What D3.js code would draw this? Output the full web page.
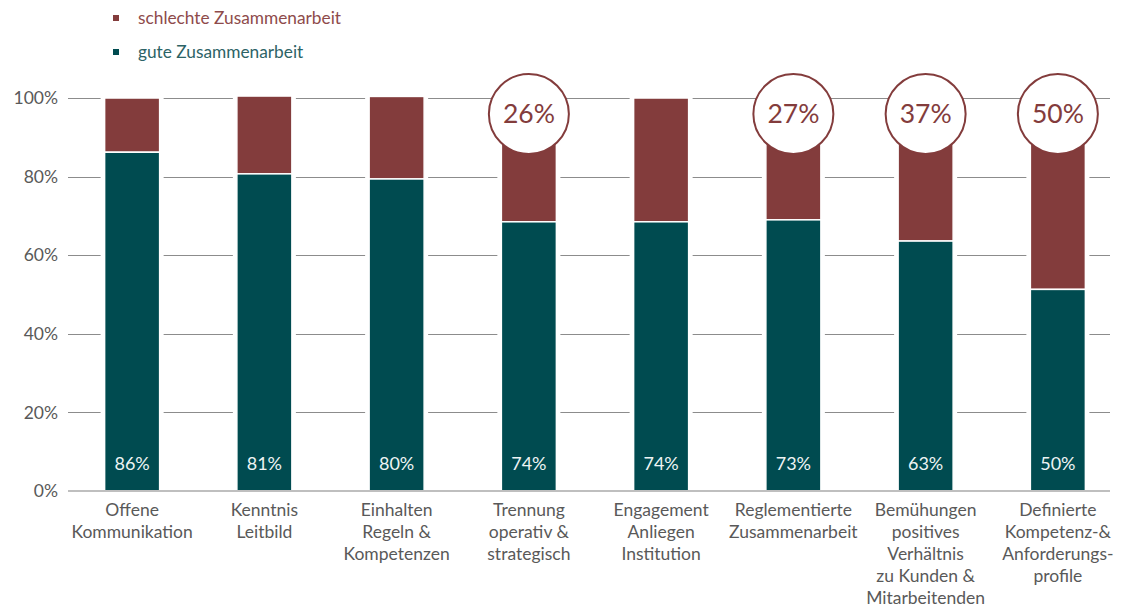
<!DOCTYPE html>
<html>
<head>
<meta charset="utf-8">
<script src="https://cdn.jsdelivr.net/npm/d3@7"></script>
<style>
  body { margin: 0; background: #fff; }
  svg text { font-family: Lato, "Open Sans", sans-serif; }
</style>
</head>
<body>
<script>
// Chart data
const categories = [
  ["Offene", "Kommunikation"],
  ["Kenntnis", "Leitbild"],
  ["Einhalten", "Regeln &", "Kompetenzen"],
  ["Trennung", "operativ &", "strategisch"],
  ["Engagement", "Anliegen", "Institution"],
  ["Reglementierte", "Zusammenarbeit"],
  ["Bemühungen", "positives", "Verhältnis", "zu Kunden &", "Mitarbeitenden"],
  ["Definierte", "Kompetenz-&", "Anforderungs-", "profile"]
];
// segment heights
const goodValues = [86.2, 80.7, 79.4, 68.5, 68.5, 69, 63.6, 51.3];
const badValues = [13.8, 19.8, 21.0, 31.5, 31.5, 31, 36.4, 48.7];
// printed labels
const goodLabels = [86, 81, 80, 74, 74, 73, 63, 50];
const badCallouts = [null, null, null, 26, null, 27, 37, 50];
const yTicks = [0, 20, 40, 60, 80, 100];
const seriesNames = ["schlechte Zusammenarbeit", "gute Zusammenarbeit"];

const svgWidth = 1139, svgHeight = 610;
const red = "#833c3c", green = "#004b50";

let svg = d3.select("body").append("svg")
    .attr("width", svgWidth)
    .attr("height", svgHeight);

let xScale = d3.scaleBand()
    .domain(d3.range(categories.length))
    .range([66, 1124])
    .paddingInner(0.584)
    .paddingOuter(0.292);

let yScale = d3.scaleLinear()
    .domain([0, 100])
    .range([491, 98]);

// gridlines
svg.append("g").selectAll("line")
    .data(yTicks.filter(d => d > 0))
    .enter().append("line")
    .attr("x1", 68).attr("x2", 1110)
    .attr("y1", d => Math.round(yScale(d)) + 0.5)
    .attr("y2", d => Math.round(yScale(d)) + 0.5)
    .attr("stroke", "#8c8c8c").attr("stroke-width", 1);

// y axis labels
let leftAxis = d3.axisLeft(yScale).tickValues(yTicks).tickFormat(d => d + "%").tickSize(0).tickPadding(0);
let yAxis = svg.append("g").attr("transform", "translate(58,0)").call(leftAxis);
yAxis.select(".domain").remove();
yAxis.selectAll("text")
    .attr("fill", "#595959")
    .style("font-size", "17.5px");

// bars
let bars = svg.append("g").selectAll("g")
    .data(categories)
    .enter().append("g");

// white gap around the bars so gridlines stop short
bars.append("rect")
    .attr("x", (d, i) => xScale(i) - 4)
    .attr("width", xScale.bandwidth() + 8)
    .attr("y", (d, i) => yScale(goodValues[i] + badValues[i]) - 2)
    .attr("height", (d, i) => yScale(0) - yScale(goodValues[i] + badValues[i]) + 2)
    .attr("fill", "#fff");

bars.append("rect")
    .attr("x", (d, i) => xScale(i))
    .attr("width", xScale.bandwidth())
    .attr("y", (d, i) => yScale(goodValues[i] + badValues[i]))
    .attr("height", (d, i) => yScale(goodValues[i]) - yScale(goodValues[i] + badValues[i]))
    .attr("fill", red)
    .attr("stroke", "#fff").attr("stroke-width", 1.5);

bars.append("rect")
    .attr("x", (d, i) => xScale(i))
    .attr("width", xScale.bandwidth())
    .attr("y", (d, i) => yScale(goodValues[i]))
    .attr("height", (d, i) => yScale(0) - yScale(goodValues[i]))
    .attr("fill", green)
    .attr("stroke", "#fff").attr("stroke-width", 1.5);

bars.append("text")
    .attr("x", (d, i) => xScale(i) + xScale.bandwidth() / 2)
    .attr("y", 470)
    .attr("text-anchor", "middle")
    .attr("fill", "#eef4f4")
    .style("font-size", "18px")
    .text((d, i) => goodLabels[i] + "%");

// baseline
svg.append("line")
    .attr("x1", 68).attr("x2", 1110)
    .attr("y1", yScale(0)).attr("y2", yScale(0))
    .attr("stroke", "#bfbfbf").attr("stroke-width", 2);

// category labels
bars.append("text")
    .attr("text-anchor", "middle")
    .attr("fill", "#595959")
    .style("font-size", "17.5px")
    .selectAll("tspan")
    .data((d, i) => d.map(line => ({ line, i })))
    .enter().append("tspan")
    .attr("x", d => xScale(d.i) + xScale.bandwidth() / 2)
    .attr("y", (d, j) => 516 + j * 22)
    .text(d => d.line);

// callout circles
let callouts = svg.append("g").selectAll("g")
    .data(badCallouts.map((v, i) => ({ v, i })).filter(d => d.v !== null))
    .enter().append("g")
    .attr("transform", d => `translate(${xScale(d.i) + xScale.bandwidth() / 2}, 114)`);

callouts.append("circle")
    .attr("r", 40)
    .attr("fill", "#fff")
    .attr("stroke", red)
    .attr("stroke-width", 2);

callouts.append("text")
    .attr("text-anchor", "middle")
    .attr("y", 9)
    .attr("fill", red)
    .style("font-size", "26.5px")
    .text(d => d.v + "%");

// legend
let legend = svg.append("g").selectAll("g")
    .data(seriesNames)
    .enter().append("g")
    .attr("transform", (d, i) => `translate(113, ${15 + i * 34})`);

legend.append("rect")
    .attr("width", 6).attr("height", 6)
    .attr("fill", (d, i) => i === 0 ? red : green);

legend.append("text")
    .attr("x", 25).attr("y", 9)
    .attr("fill", (d, i) => i === 0 ? "#8e4b4b" : "#2d6366")
    .style("font-size", "17.3px")
    .text(d => d);
</script>
</body>
</html>
